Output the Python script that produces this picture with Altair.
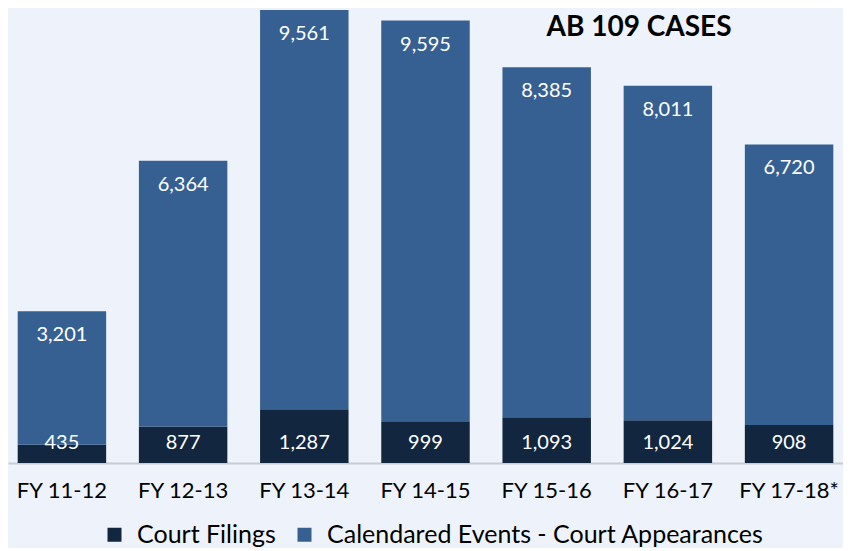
import altair as alt
import pandas as pd

years = ["FY 11-12", "FY 12-13", "FY 13-14", "FY 14-15", "FY 15-16", "FY 16-17", "FY 17-18*"]
filings = [435, 877, 1287, 999, 1093, 1024, 908]
calendared = [3201, 6364, 9561, 9595, 8385, 8011, 6720]
series = ["Court Filings", "Calendared Events - Court Appearances"]
colors = ["#132640", "#376092"]
title_text = "AB 109 CASES"

rows = []
for y, f, c in zip(years, filings, calendared):
    rows.append({"year": y, "series": series[0], "value": f, "ord": 0, "total": f + c})
    rows.append({"year": y, "series": series[1], "value": c, "ord": 1, "total": f + c})
df = pd.DataFrame(rows)
df_f = df[df["series"] == series[0]]
df_c = df[df["series"] == series[1]]

FONT = "Lato"
xenc = alt.X("year:N", sort=years,
             scale=alt.Scale(paddingInner=0.27, paddingOuter=0.08),
             axis=alt.Axis(title=None, ticks=False, labelAngle=0, labelFontSize=22,
                           labelColor="#000000", labelFont=FONT, labelPadding=17,
                           domainColor="#C8CBD0", domainWidth=2))
yscale = alt.Scale(domain=[0, 10896], nice=False)

bars = alt.Chart(df).mark_bar().encode(
    x=xenc,
    y=alt.Y("value:Q", stack="zero", scale=yscale, axis=None),
    color=alt.Color("series:N", scale=alt.Scale(domain=series, range=colors),
                    legend=alt.Legend(title=None, orient="none", direction="horizontal",
                                      legendX=94, legendY=514, symbolType="square",
                                      symbolSize=196, symbolStrokeWidth=0,
                                      labelFontSize=25, labelFont=FONT, labelColor="#000000",
                                      labelOffset=10, columnPadding=16, labelLimit=600)),
    order=alt.Order("ord:Q"),
)

lab_f = alt.Chart(df_f).mark_text(color="white", font=FONT, fontSize=20,
                                  baseline="middle", dy=-20).encode(
    x=alt.X("year:N", sort=years),
    y=alt.datum(0),
    text=alt.Text("value:Q", format=","),
)

lab_c = alt.Chart(df_c).mark_text(color="white", font=FONT, fontSize=20,
                                  baseline="middle", dy=24).encode(
    x=alt.X("year:N", sort=years),
    y=alt.Y("total:Q", scale=yscale),
    text=alt.Text("value:Q", format=","),
)

title = alt.Chart(pd.DataFrame({"t": [title_text]})).mark_text(
    font=FONT, fontSize=28, fontWeight="bold", color="#000000", baseline="middle"
).encode(x=alt.value(631), y=alt.value(20), text="t:N")

chart = alt.layer(bars, lab_f, lab_c, title).properties(
    width=835, height=455, background="#EEF3FB", padding=0
).configure_view(stroke=None)

chart.save("out.html", embed_options={"renderer": "svg", "actions": False})
